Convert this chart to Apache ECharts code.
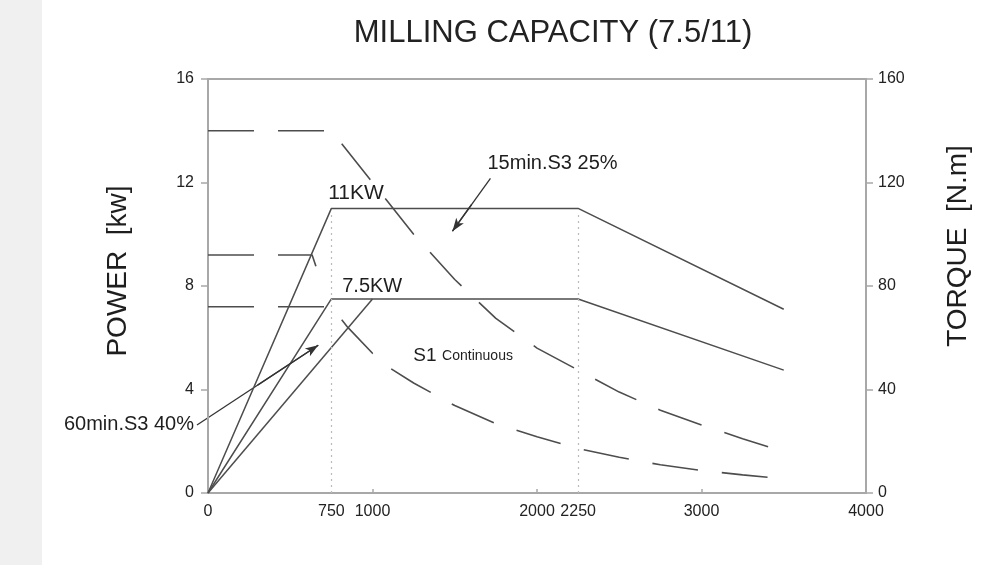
<!DOCTYPE html>
<html>
<head>
<meta charset="utf-8">
<title>Milling capacity</title>
<script src="https://cdn.jsdelivr.net/npm/echarts@6.0.0/dist/echarts.min.js"></script>
<style>
  html, body { margin: 0; padding: 0; background: #fff; }
  #chart { width: 991px; height: 565px; }
</style>
</head>
<body>
<div id="chart"></div>
<script>
// x axis: spindle speed (rpm)
const rpmLabels = [0, 750, 1000, 2000, 2250, 3000, 4000];
const rpmTicks = [1000, 2000, 3000];

// power curves (kW), [rpm, kW]
const powerS3_25 = [[0, 0], [750, 11], [2250, 11], [3500, 7.1]];
const powerS1 = [[0, 0], [750, 7.5], [2250, 7.5], [3500, 4.75]];
const powerS1Ramp = [[0, 0], [1000, 7.5]];

// torque curves (N.m)
const torqueRpm = [0, 750, 1000, 1250, 1500, 1750, 2000, 2250, 2500, 2750, 3000, 3250, 3500];
const torqueS3_25 = [140, 140, 120, 100, 82.5, 67.5, 56, 47.5, 39, 32, 26.3, 21, 16];
const torqueS3_40Rpm = [0, 633, 694];
const torqueS3_40 = [92, 92, 80.5];
const torqueS1Rpm = [0, 750, 850, 1000, 1100, 1250, 1500, 1750, 2000, 2250, 2500, 2750, 3000, 3250, 3500];
const torqueS1 = [72, 72, 64, 54, 48.5, 42.5, 33.8, 26.8, 21.7, 17.2, 13.8, 10.9, 8.7, 7, 5.5];

// dotted guide lines and arrows (rpm, kW)
const guides = [[[750, 0], [750, 10.9]], [[2250, 0], [2250, 10.9]]];
const arrows = [[[1717, 12.16], [1486, 10.12]], [[-67, 2.63], [670, 5.71]]];

const pair = (xs, ys) => xs.map((x, i) => [x, ys[i]]);
const mid = (a, b) => [(a[0] + b[0]) / 2, (a[1] + b[1]) / 2];

const FONT = 'Liberation Sans, Arial, sans-serif';
const INK = '#4d4d4d';
const TEXT = '#1e1e1e';
const AXIS = '#a8a8a8';

const chart = echarts.init(document.getElementById('chart'));

const solid = { color: INK, width: 1.5, type: 'solid' };
const dashed = { color: INK, width: 1.6, type: [46, 24] };

const noteStyle = { show: true, position: 'inside', color: TEXT, fontFamily: FONT, fontSize: 20 };
const note = (value, text, align, extra) => ({
  value: value,
  label: Object.assign({}, noteStyle, { formatter: text, align: align }, extra || {})
});

const stripRect = { id: 'strip', type: 'rect', shape: { x: 0, y: 0, width: 42, height: 565 }, style: { fill: '#f0f0f0' }, silent: true };

const option = {
  backgroundColor: '#fff',
  animation: false,
  title: {
    text: 'MILLING CAPACITY (7.5/11)',
    left: 548,
    textAlign: 'center',
    top: 13,
    textStyle: { fontFamily: FONT, fontWeight: 'normal', fontSize: 31, color: '#222' }
  },
  graphic: [stripRect],
  grid: {
    left: 208, right: 125, top: 79, bottom: 72,
    show: true, borderColor: AXIS, borderWidth: 2, backgroundColor: 'transparent'
  },
  xAxis: {
    type: 'value',
    min: 0, max: 4000,
    axisLine: { lineStyle: { color: AXIS, width: 2 } },
    axisTick: { show: true, inside: true, length: 4, customValues: rpmTicks, lineStyle: { color: AXIS, width: 1.5 } },
    axisLabel: {
      customValues: rpmLabels, margin: 11, fontFamily: FONT, fontSize: 16, color: '#222',
      formatter: v => String(v)
    },
    splitLine: { show: false }
  },
  yAxis: [
    {
      type: 'value',
      min: 0, max: 16, interval: 4,
      name: 'POWER  [kw]',
      nameLocation: 'middle',
      nameRotate: 90,
      nameGap: 76,
      nameTextStyle: { fontFamily: FONT, fontSize: 28, color: TEXT, padding: [0, 0, 0, 30] },
      axisLine: { show: true, lineStyle: { color: AXIS, width: 2 } },
      axisTick: { show: true, length: 7, lineStyle: { color: AXIS, width: 1.5 } },
      axisLabel: { margin: 14, fontFamily: FONT, fontSize: 16, color: '#222' },
      splitLine: { show: false }
    },
    {
      type: 'value',
      position: 'right',
      min: 0, max: 160, interval: 40,
      name: 'TORQUE  [N.m]',
      nameLocation: 'middle',
      nameRotate: 90,
      nameGap: 78,
      nameTextStyle: { fontFamily: FONT, fontSize: 28, color: TEXT, padding: [0, 0, 0, 80] },
      axisLine: { show: true, lineStyle: { color: AXIS, width: 2 } },
      axisTick: { show: true, length: 7, lineStyle: { color: AXIS, width: 1.5 } },
      axisLabel: { margin: 12, fontFamily: FONT, fontSize: 16, color: '#222' },
      splitLine: { show: false }
    }
  ],
  series: [
    {
      name: '15min.S3 25% power', type: 'line', yAxisIndex: 0,
      data: powerS3_25, showSymbol: false, lineStyle: solid,
      // arrow heads; shafts are added below as graphic lines
      markLine: {
        silent: true, symbol: ['none', 'arrow'], symbolSize: [7, 13],
        label: { show: false },
        lineStyle: { color: '#333', width: 1.3, type: 'solid' },
        data: arrows.map(a => [{ coord: mid(a[0], a[1]) }, { coord: a[1] }])
      }
    },
    {
      name: 'S1 power', type: 'line', yAxisIndex: 0,
      data: powerS1, showSymbol: false, lineStyle: solid,
      markLine: {
        silent: true, symbol: ['none', 'none'],
        label: { show: false },
        lineStyle: { color: '#bbb', width: 1.2, type: [2, 4] },
        data: guides.map(g => [{ coord: g[0] }, { coord: g[1] }])
      }
    },
    { name: 'S1 ramp', type: 'line', yAxisIndex: 0, data: powerS1Ramp, showSymbol: false, lineStyle: solid },
    { name: '15min.S3 25% torque', type: 'line', yAxisIndex: 1, data: pair(torqueRpm, torqueS3_25), showSymbol: false, lineStyle: dashed },
    { name: '60min.S3 40% torque', type: 'line', yAxisIndex: 1, data: pair(torqueS3_40Rpm, torqueS3_40), showSymbol: false, lineStyle: dashed },
    { name: 'S1 torque', type: 'line', yAxisIndex: 1, data: pair(torqueS1Rpm, torqueS1), showSymbol: false, lineStyle: dashed },
    {
      name: 'notes', type: 'scatter', yAxisIndex: 0, symbolSize: 0, clip: false, silent: true,
      itemStyle: { opacity: 1 },
      data: [
        note([731, 11.58], '11KW', 'left', { fontSize: 21 }),
        note([816, 7.99], '7.5KW', 'left'),
        note([1699, 12.74], '15min.S3 25%', 'left'),
        note([1248, 5.29], '{a|S1} {b|Continuous}', 'left', {
          rich: {
            a: { fontFamily: FONT, fontSize: 19, color: TEXT },
            b: { fontFamily: FONT, fontSize: 14, color: TEXT }
          }
        }),
        note([-85, 2.63], '60min.S3 40%', 'right')
      ]
    }
  ]
};

chart.setOption(option);

// arrow shafts, placed through the chart's own axes (one starts left of the y axis)
const toPx = p => chart.convertToPixel({ xAxisIndex: 0, yAxisIndex: 0 }, p);
const shafts = arrows.map((a, i) => {
  const p0 = toPx(a[0]);
  const p1 = toPx(a[1]);
  return {
    id: 'shaft' + i, type: 'line', silent: true,
    shape: { x1: p0[0], y1: p0[1], x2: p1[0], y2: p1[1] },
    style: { stroke: '#333', lineWidth: 1.3 }
  };
});
chart.setOption({ graphic: [stripRect].concat(shafts) });
</script>
</body>
</html>
